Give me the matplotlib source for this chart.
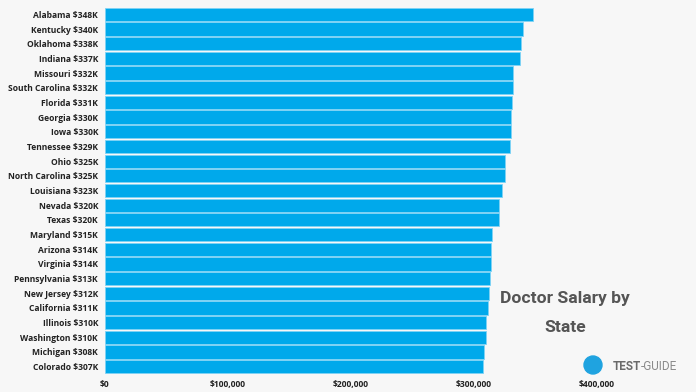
import matplotlib.pyplot as plt
from matplotlib.patches import Ellipse

#Data (salary in $K)
states = ['Alabama', 'Kentucky', 'Oklahoma', 'Indiana', 'Missouri',
          'South Carolina', 'Florida', 'Georgia', 'Iowa', 'Tennessee',
          'Ohio', 'North Carolina', 'Louisiana', 'Nevada', 'Texas',
          'Maryland', 'Arizona', 'Virginia', 'Pennsylvania', 'New Jersey',
          'California', 'Illinois', 'Washington', 'Michigan', 'Colorado']
salary_k = [348, 340, 338, 337, 332, 332, 331, 330, 330, 329,
            325, 325, 323, 320, 320, 315, 314, 314, 313, 312,
            311, 310, 310, 308, 307]
xticks = [0, 100000, 200000, 300000, 400000]
xtick_labels = ['$0', '$100,000', '$200,000', '$300,000', '$400,000']

bg = '#f7f7f7'
blue = '#00a9eb'
grey = '#555555'
plt.rcParams['font.family'] = ['Open Sans', 'DejaVu Sans']

fig = plt.figure(figsize=(6.96, 3.92), dpi=100, facecolor=bg)
ax = fig.add_axes([105/696, 18/392, (597-105)/696, 367/392])
ax.set_facecolor(bg)

labels = [f'{s} ${v}K' for s, v in zip(states, salary_k)]
y = list(range(len(states)))[::-1]
ax.barh(y, [v*1000 for v in salary_k], height=0.9, color=blue,
        edgecolor='#7fd3f5', linewidth=0.6)

ax.set_ylim(-0.5, len(states)-0.5)
ax.set_xlim(0, 400000)
ax.set_yticks(y)
ax.set_yticklabels(labels, fontsize=6.1, fontweight='bold', color='#222222')
ax.set_xticks(xticks)
ax.set_xticklabels(xtick_labels, fontsize=6.1, fontweight='bold', color='#222222')
ax.tick_params(length=0, pad=5)
ax.tick_params(axis='x', pad=4)
for sp in ax.spines.values():
    sp.set_visible(False)

#Title
fig.text(565/696, 1-298/392, 'Doctor Salary by', ha='center', va='center',
         fontsize=12.6, fontweight='bold', color=grey, family='Roboto')
fig.text(565/696, 1-327/392, 'State', ha='center', va='center',
         fontsize=12.6, fontweight='bold', color=grey, family='Roboto')

#Logo
fig.patches.append(Ellipse((593/696, 1-365/392), 18/696, 18/392,
                           transform=fig.transFigure, color='#1fa3e0'))
t1 = fig.text(613/696, 1-366/392, 'TEST', fontsize=8.5, fontweight='bold',
              color='#6a6a6a', va='center', ha='left', family='Roboto')
fig.add_artist(plt.Annotation('-GUIDE', xy=(1, 0.5), xycoords=t1, va='center',
                              ha='left', fontsize=8.5, color='#8a8a8a',
                              family='Roboto'))

plt.savefig('out.png', dpi=100, facecolor=bg)
